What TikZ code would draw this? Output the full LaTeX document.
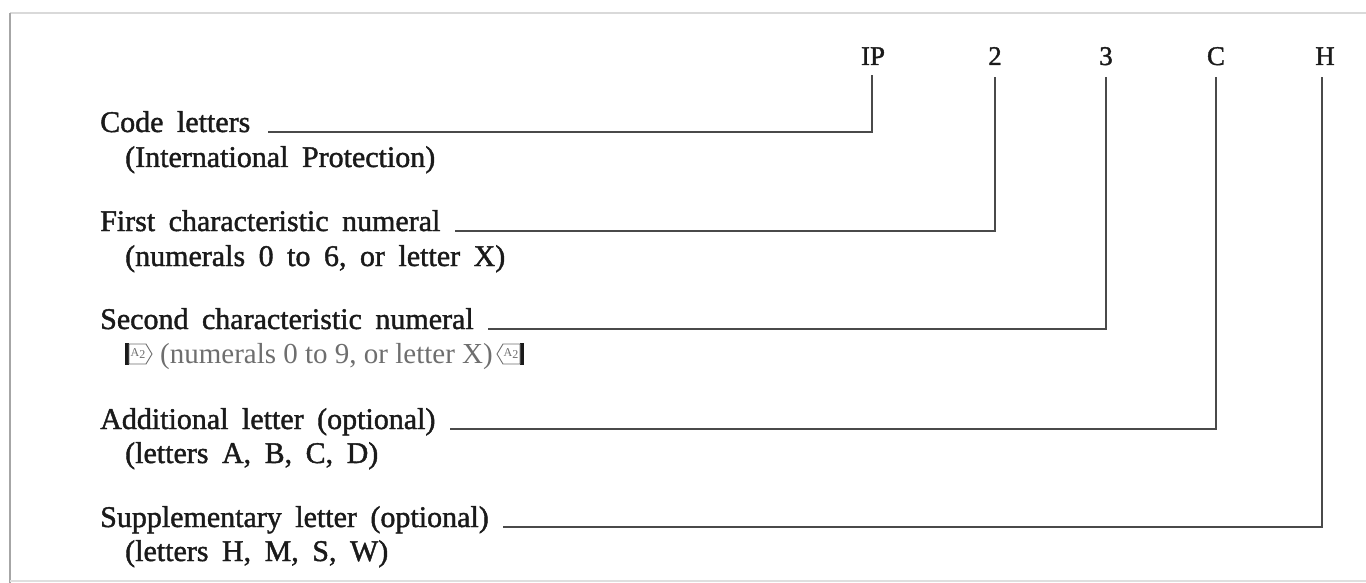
\documentclass[tikz,border=0pt]{standalone}
\usepackage{fontspec}
\setmainfont{Liberation Serif}
\newfontfamily\heavyfam[FakeBold=1.4]{Liberation Serif}
\definecolor{ink}{HTML}{1A1A1A}
\definecolor{wire}{HTML}{4A4A4A}
\definecolor{pale}{HTML}{6E6E6E}
\newcommand\bodyfnt{\heavyfam\fontsize{30}{30}\selectfont\spaceskip=0.45em plus 0.1em\relax}
\newcommand\palefnt{\fontsize{29}{29}\selectfont}
\tikzset{
  maintxt/.style={inner sep=0pt, text=ink, font=\bodyfnt},
  subtxt/.style={maintxt},
  graytxt/.style={inner sep=0pt, text=pale, font=\palefnt},
  headtxt/.style={inner sep=0pt, text=ink, font=\heavyfam\fontsize{27}{27}\selectfont},
  conn/.style={draw=wire, line width=1.4pt, line cap=rect},
  marktxt/.style={inner sep=0pt, text=pale, font=\fontsize{12}{12}\selectfont},
  markbox/.style={draw=pale, line width=0.9pt, fill=white},
  frameline/.style={line width=1.6pt}
}
\begin{document}
\begin{tikzpicture}[x=1pt,y=-1pt]
\useasboundingbox (0,0) rectangle (1366,583);
% frame
\draw[frameline, draw=gray!30] (10,13) -- (1366,13);
\draw[frameline, draw=gray!70, line width=2.4pt] (10,13) -- (10,583);
\draw[frameline, draw=gray!25] (10,581) -- (1366,581);

% header labels
\node[headtxt, anchor=base] (hIP) at (873,65) {IP};
\node[headtxt, anchor=base] (h2) at (995,65) {2};
\node[headtxt, anchor=base] (h3) at (1106,65) {3};
\node[headtxt, anchor=base] (hC) at (1216,65) {C};
\node[headtxt, anchor=base] (hH) at (1325,65) {H};
\coordinate (tIP) at (872,76);
\coordinate (t2) at (995,78);
\coordinate (t3) at (1106,78);
\coordinate (tC) at (1216,78);
\coordinate (tH) at (1322,78);

% texts
\node[maintxt, anchor=base west] (code) at (100,132) {Code letters};
\node[subtxt, anchor=base west] (codes) at (125,167) {(International Protection)};
\node[maintxt, anchor=base west] (first) at (100,231) {First characteristic numeral};
\node[subtxt, anchor=base west] (firsts) at (125,266) {(numerals 0 to 6, or letter X)};
\node[maintxt, anchor=base west] (second) at (100,329) {Second characteristic numeral};
\node[graytxt, anchor=base west] (seconds) at (160,363) {(numerals 0 to 9, or letter X)};
\node[maintxt, anchor=base west] (add) at (100,429) {Additional letter (optional)};
\node[subtxt, anchor=base west] (adds) at (125,463) {(letters A, B, C, D)};
\node[maintxt, anchor=base west] (sup) at (100,527) {Supplementary letter (optional)};
\node[subtxt, anchor=base west] (sups) at (125,561) {(letters H, M, S, W)};

% amendment markers
\coordinate (cA) at (138,354);
\coordinate (cB) at (511,354);
\fill[ink] ([xshift=-13pt,yshift=-11pt]cA) rectangle ([xshift=-9pt,yshift=11pt]cA);
\draw[markbox] ([xshift=-9pt,yshift=-10pt]cA) -- ([xshift=8pt,yshift=-10pt]cA) -- ([xshift=14pt]cA) -- ([xshift=8pt,yshift=10pt]cA) -- ([xshift=-9pt,yshift=10pt]cA) -- cycle;
\node[marktxt] (mA) at (cA) {A\raisebox{-2pt}{2}};
\fill[ink] ([xshift=9pt,yshift=-11pt]cB) rectangle ([xshift=13pt,yshift=11pt]cB);
\draw[markbox] ([xshift=9pt,yshift=-10pt]cB) -- ([xshift=-8pt,yshift=-10pt]cB) -- ([xshift=-14pt]cB) -- ([xshift=-8pt,yshift=10pt]cB) -- ([xshift=9pt,yshift=10pt]cB) -- cycle;
\node[marktxt] (mB) at (cB) {A\raisebox{-2pt}{2}};

% connectors
\draw[conn] ([xshift=18pt]code.base east) -- (tIP |- code.base) -- (tIP);
\draw[conn] ([xshift=15pt]first.base east) -- (t2 |- first.base) -- (t2);
\draw[conn] ([xshift=15pt]second.base east) -- (t3 |- second.base) -- (t3);
\draw[conn] ([xshift=15pt]add.base east) -- (tC |- add.base) -- (tC);
\draw[conn] ([xshift=15pt]sup.base east) -- (tH |- sup.base) -- (tH);
\end{tikzpicture}
\end{document}
